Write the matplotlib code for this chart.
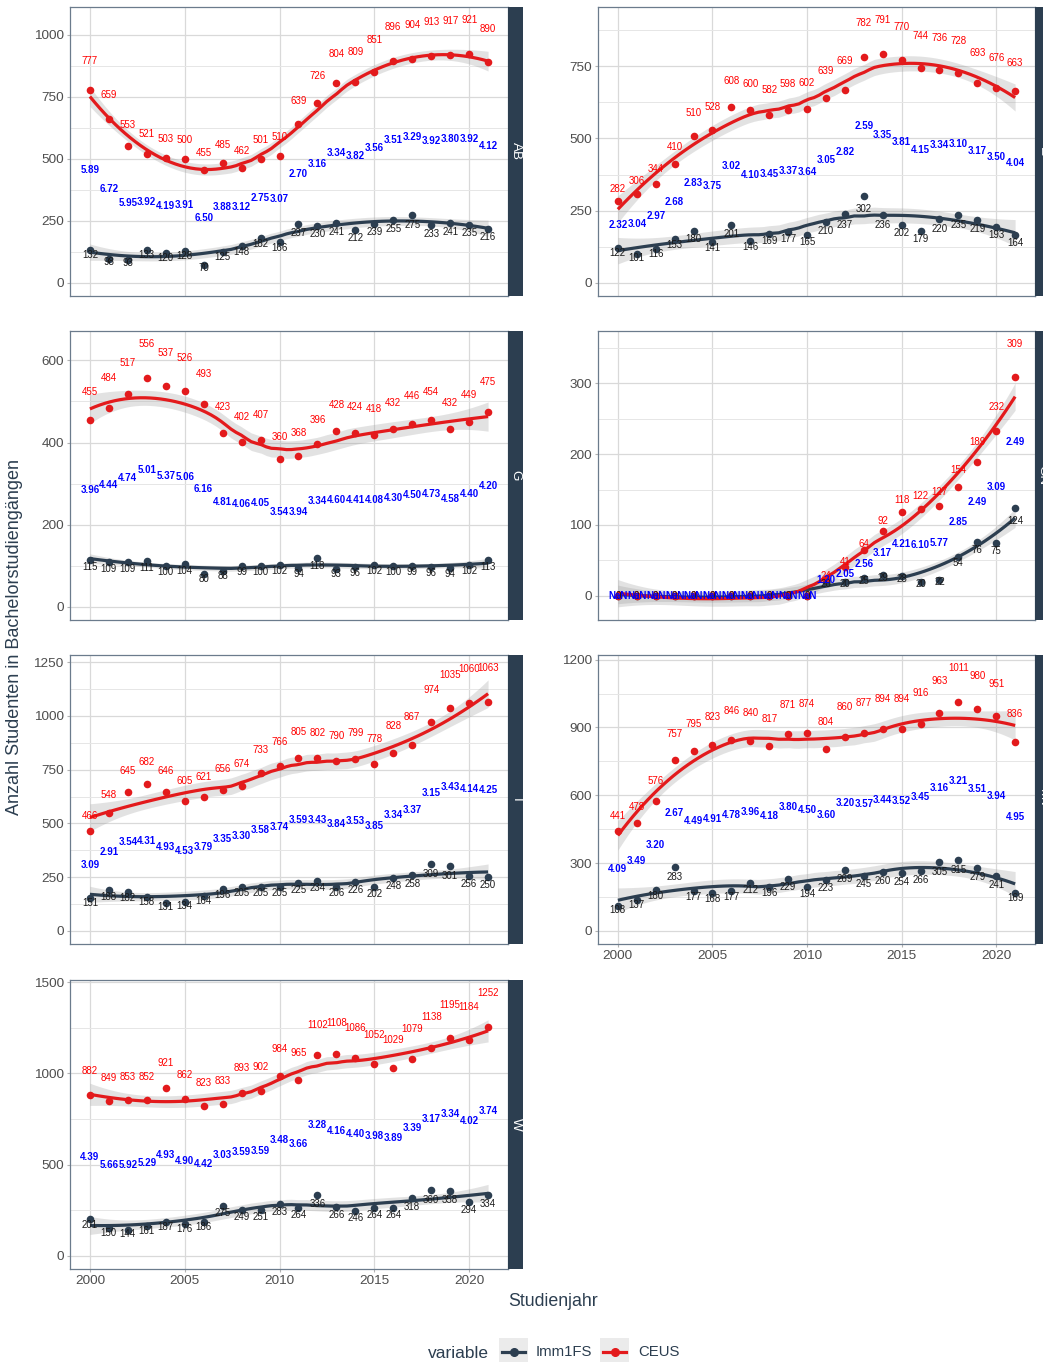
import numpy as np
import matplotlib
matplotlib.use("Agg")
import matplotlib.pyplot as plt
from matplotlib.patches import Rectangle
from matplotlib.lines import Line2D
from matplotlib.ticker import MultipleLocator

plt.rcParams['font.family'] = ['Liberation Sans', 'DejaVu Sans']

years = list(range(2000, 2022))

ab_imm = [132, 98, 93, 133, 120, 128, 70, 125, 148, 182, 166, 237, 230, 241, 212, 239, 255, 275, 233, 241, 235, 216]
ab_ceus = [777, 659, 553, 521, 503, 500, 455, 485, 462, 501, 510, 639, 726, 804, 809, 851, 896, 904, 913, 917, 921, 890]
ab_ratio = [5.89, 6.72, 5.95, 3.92, 4.19, 3.91, 6.50, 3.88, 3.12, 2.75, 3.07, 2.70, 3.16, 3.34, 3.82, 3.56, 3.51, 3.29, 3.92, 3.80, 3.92, 4.12]

e_imm = [122, 101, 116, 153, 180, 141, 201, 146, 169, 177, 165, 210, 237, 302, 236, 202, 179, 220, 235, 219, 193, 164]
e_ceus = [282, 306, 344, 410, 510, 528, 608, 600, 582, 598, 602, 639, 669, 782, 791, 770, 744, 736, 728, 693, 676, 663]
e_ratio = [2.32, 3.04, 2.97, 2.68, 2.83, 3.75, 3.02, 4.10, 3.45, 3.37, 3.64, 3.05, 2.82, 2.59, 3.35, 3.81, 4.15, 3.34, 3.10, 3.17, 3.50, 4.04]

g_imm = [115, 109, 109, 111, 100, 104, 80, 88, 99, 100, 102, 94, 118, 93, 96, 102, 100, 99, 96, 94, 102, 113]
g_ceus = [455, 484, 517, 556, 537, 526, 493, 423, 402, 407, 360, 368, 396, 428, 424, 418, 432, 446, 454, 432, 449, 475]
g_ratio = [3.96, 4.44, 4.74, 5.01, 5.37, 5.06, 6.16, 4.81, 4.06, 4.05, 3.54, 3.94, 3.34, 4.60, 4.41, 4.08, 4.30, 4.50, 4.73, 4.58, 4.40, 4.20]

gn_imm = [0, 0, 0, 0, 0, 0, 0, 0, 0, 0, 0, 20, 20, 25, 29, 28, 20, 22, 54, 76, 75, 124]
gn_ceus = [0, 0, 0, 0, 0, 0, 0, 0, 0, 0, 0, 24, 41, 64, 92, 118, 122, 127, 154, 189, 232, 309]
gn_ratio = [np.nan] * 11 + [1.20, 2.05, 2.56, 3.17, 4.21, 6.10, 5.77, 2.85, 2.49, 3.09, 2.49]

i_imm = [151, 188, 182, 158, 131, 134, 164, 196, 205, 205, 205, 225, 234, 206, 226, 202, 248, 258, 309, 301, 256, 250]
i_ceus = [466, 548, 645, 682, 646, 605, 621, 656, 674, 733, 766, 805, 802, 790, 799, 778, 828, 867, 974, 1035, 1060, 1063]
i_ratio = [3.09, 2.91, 3.54, 4.31, 4.93, 4.53, 3.79, 3.35, 3.30, 3.58, 3.74, 3.59, 3.43, 3.84, 3.53, 3.85, 3.34, 3.37, 3.15, 3.43, 4.14, 4.25]

mv_imm = [108, 137, 180, 283, 177, 168, 177, 212, 196, 229, 194, 223, 269, 245, 260, 254, 266, 305, 315, 279, 241, 169]
mv_ceus = [441, 478, 576, 757, 795, 823, 846, 840, 817, 871, 874, 804, 860, 877, 894, 894, 916, 963, 1011, 980, 951, 836]
mv_ratio = [4.09, 3.49, 3.20, 2.67, 4.49, 4.91, 4.78, 3.96, 4.18, 3.80, 4.50, 3.60, 3.20, 3.57, 3.44, 3.52, 3.45, 3.16, 3.21, 3.51, 3.94, 4.95]

w_imm = [201, 150, 144, 161, 187, 176, 186, 275, 249, 251, 283, 264, 336, 266, 246, 264, 264, 318, 360, 358, 294, 334]
w_ceus = [882, 849, 853, 852, 921, 862, 823, 833, 893, 902, 984, 965, 1102, 1108, 1086, 1052, 1029, 1079, 1138, 1195, 1184, 1252]
w_ratio = [4.39, 5.66, 5.92, 5.29, 4.93, 4.90, 4.42, 3.03, 3.59, 3.59, 3.48, 3.66, 3.28, 4.16, 4.40, 3.98, 3.89, 3.39, 3.17, 3.34, 4.02, 3.74]

C_IMM = '#2c3e50'
C_CEUS = '#e31a1c'
W, H = 1043, 1362


def loess(x, y, xs, span=0.75):
    n = len(x)
    q = int(np.floor(n * span))

    def row(x0):
        d = np.abs(x - x0)
        h = np.sort(d)[q - 1] * 1.0001
        u = d / h
        w = np.where(u < 1, (1 - u ** 3) ** 3, 0.0)
        X = np.column_stack([np.ones(n), x - x0, (x - x0) ** 2])
        XtW = X.T * w
        return np.linalg.solve(XtW @ X, XtW)[0]

    L = np.array([row(v) for v in x])
    Lg = np.array([row(v) for v in xs])
    fit = Lg @ y
    res = y - L @ y
    M = np.eye(n) - L
    MM = M.T @ M
    d1 = np.trace(MM)
    d2 = np.trace(MM @ MM)
    sigma = np.sqrt(res @ res / d1)
    df = d1 ** 2 / d2
    z = 1.959964
    t = z + (z ** 3 + z) / (4 * df) + (5 * z ** 5 + 16 * z ** 3 + 3 * z) / (96 * df ** 2)
    se = sigma * np.sqrt((Lg ** 2).sum(1))
    return fit, fit - t * se, fit + t * se


def fmt_ratio(v):
    return 'NaN' if np.isnan(v) else f'{v:.2f}'


panels = [
    ('AB', ab_imm, ab_ceus, ab_ratio, 250, 0, 0),
    ('E', e_imm, e_ceus, e_ratio, 250, 1, 0),
    ('G', g_imm, g_ceus, g_ratio, 200, 0, 1),
    ('GN', gn_imm, gn_ceus, gn_ratio, 100, 1, 1),
    ('I', i_imm, i_ceus, i_ratio, 250, 0, 2),
    ('MV', mv_imm, mv_ceus, mv_ratio, 300, 1, 2),
    ('W', w_imm, w_ceus, w_ratio, 500, 0, 3),
]

col_left = [70, 598]
col_width = [438, 437]
row_top = [7, 331, 655, 980]
row_h = 289

fig = plt.figure(figsize=(W / 100, H / 100), dpi=100)

x = np.array(years, dtype=float)
xs = np.linspace(x.min(), x.max(), 80)

for name, imm, ceus, ratio, step, col, row in panels:
    imm = np.array(imm, dtype=float)
    ceus = np.array(ceus, dtype=float)
    ratio = np.array(ratio, dtype=float)
    l, t = col_left[col], row_top[row]
    ax = fig.add_axes([l / W, 1 - (t + row_h) / H, col_width[col] / W, row_h / H])

    fits = []
    for vals, colr in [(imm, C_IMM), (ceus, C_CEUS)]:
        f, lo, hi = loess(x - 2000, vals, xs - 2000)
        fits.append((f, lo, hi, colr))
        ax.fill_between(xs, lo, hi, color='#999999', alpha=0.28, lw=0, zorder=2)
    ax.scatter(x, imm, s=30, color=C_IMM, zorder=3, lw=0)
    ax.scatter(x, ceus, s=30, color=C_CEUS, zorder=3, lw=0)
    for f, lo, hi, colr in fits:
        ax.plot(xs, f, color=colr, lw=2.3, zorder=4, solid_capstyle='butt')

    for xi, c, m, r in zip(years, ceus, imm, ratio):
        ax.text(xi, c * 1.15, f'{int(c)}', color='red', fontsize=7, ha='center', va='center', zorder=5)
        ax.text(xi, m * 0.85, f'{int(m)}', color='#1a1a1a', fontsize=7, ha='center', va='center', zorder=5)
        ax.text(xi, (c + m) / 2, fmt_ratio(r), color='blue', fontsize=7, fontweight='bold',
                ha='center', va='center', zorder=6)

    lo_all = min(0, min(fl[1].min() for fl in fits))
    hi_all = max((ceus * 1.15).max(), max(fl[2].max() for fl in fits))
    rng = hi_all - lo_all
    ax.set_ylim(lo_all - 0.05 * rng, hi_all + 0.05 * rng)
    ax.set_xlim(1998.95, 2022.05)

    ax.yaxis.set_major_locator(MultipleLocator(step))
    ax.yaxis.set_minor_locator(MultipleLocator(step / 2))
    ax.set_xticks([2000, 2005, 2010, 2015, 2020])
    ax.grid(which='major', color='#d9d9d9', lw=0.9, zorder=0)
    ax.grid(which='minor', axis='y', color='#e6e6e6', lw=0.7, zorder=0)
    ax.set_axisbelow(True)
    for s in ax.spines.values():
        s.set_color('#6b7b8c')
        s.set_linewidth(0.9)
    ax.tick_params(axis='y', which='major', length=2.5, color='#b3b3b3', labelsize=9.7,
                   labelcolor='#4d4d4d', pad=2)
    ax.tick_params(axis='y', which='minor', length=0)
    bottom = (name == 'W') or (name == 'MV')
    ax.tick_params(axis='x', length=2.5 if bottom else 0, color='#b3b3b3', labelsize=9.7,
                   labelcolor='#4d4d4d', labelbottom=bottom, pad=2)

    sx = l + col_width[col]
    sax = fig.add_axes([sx / W, 1 - (t + row_h) / H, 15 / W, row_h / H])
    sax.set_facecolor('#2c3e50')
    sax.set_xticks([])
    sax.set_yticks([])
    for s in sax.spines.values():
        s.set_visible(False)
    sax.text(0.5, 0.5, name, color='white', rotation=270, ha='center', va='center',
             fontsize=9.7, transform=sax.transAxes)

fig.text(15 / W, 1 - 637 / H, 'Anzahl Studenten in Bachelorstudiengängen', rotation=90,
         ha='center', va='center', fontsize=13, color='#2c3e50')
fig.text(553 / W, 1 - 1301 / H, 'Studienjahr', ha='center', va='center', fontsize=12.8, color='#2c3e50')

# legend
fig.text(428 / W, 1 - 1353 / H, 'variable', ha='left', va='center', fontsize=12.5, color='#2c3e50')
for kx, colr, lab, tx in [(499, C_IMM, 'Imm1FS', 536), (600, C_CEUS, 'CEUS', 638)]:
    fig.patches.append(Rectangle((kx / W, 1 - 1368 / H), 29 / W, 30 / H, transform=fig.transFigure,
                                 facecolor='#ebebeb', edgecolor='none'))
    fig.add_artist(Line2D([(kx + 3) / W, (kx + 26) / W], [1 - 1352 / H, 1 - 1352 / H],
                          transform=fig.transFigure, color=colr, lw=2.3))
    fig.add_artist(Line2D([(kx + 14.5) / W], [1 - 1352 / H], transform=fig.transFigure,
                          color=colr, marker='o', markersize=5.5, lw=0))
    fig.text(tx / W, 1 - 1352 / H, lab, ha='left', va='center', fontsize=10.7, color='#2c3e50')

fig.savefig('out.png', dpi=100)
